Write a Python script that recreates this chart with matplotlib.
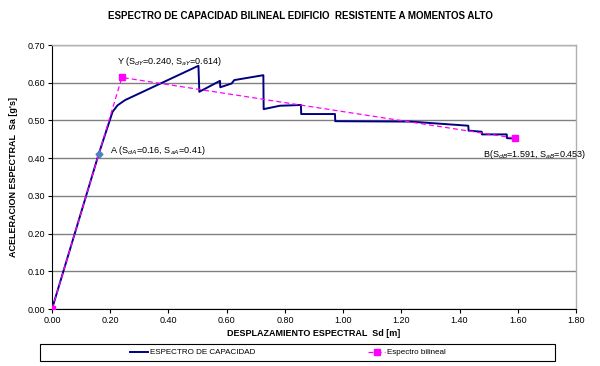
import matplotlib
matplotlib.use("Agg")
import matplotlib.pyplot as plt
from matplotlib.patches import Rectangle

plt.rcParams['font.family'] = ['Liberation Sans', 'DejaVu Sans']

# Capacity spectrum (Sd [m], Sa [g])
cap_sd = [0.0, 0.160, 0.208, 0.225, 0.251, 0.503, 0.506, 0.577, 0.578, 0.617, 0.626,
          0.726, 0.727, 0.783, 0.855, 0.856, 0.972, 0.973, 1.230, 1.430, 1.431,
          1.476, 1.477, 1.562, 1.563, 1.590]
cap_sa = [0.0, 0.410, 0.523, 0.540, 0.554, 0.645, 0.576, 0.605, 0.588, 0.598, 0.607,
          0.620, 0.530, 0.539, 0.541, 0.517, 0.517, 0.498, 0.497, 0.486, 0.473,
          0.470, 0.463, 0.463, 0.453, 0.452]

# Bilinear spectrum
bil_sd = [0.0, 0.240, 1.591]
bil_sa = [0.0, 0.614, 0.453]

# Point A
a_sd, a_sa = 0.16, 0.41

title = "ESPECTRO DE CAPACIDAD BILINEAL EDIFICIO  RESISTENTE A MOMENTOS ALTO"
xticks = [0.0, 0.2, 0.4, 0.6, 0.8, 1.0, 1.2, 1.4, 1.6, 1.8]
yticks = [0.0, 0.1, 0.2, 0.3, 0.4, 0.5, 0.6, 0.7]

fig = plt.figure(figsize=(6.0, 3.66), dpi=100)
ax = fig.add_axes([0.0867, 0.1557, 0.8733, 0.7213])

ax.plot(cap_sd, cap_sa, color='#000080', lw=1.4, label='ESPECTRO DE CAPACIDAD', zorder=3)
ax.plot(bil_sd, bil_sa, color='#FF00FF', lw=0.9, ls=(0, (4, 2.5)), marker='s', ms=4,
        label='Espectro bilineal', zorder=4)
ax.plot([a_sd], [a_sa], marker='D', ms=3.5, color='#4F81BD', ls='none', zorder=5)

ax.set_xlim(0, 1.8)
ax.set_ylim(0, 0.7)
ax.set_xticks(xticks)
ax.set_yticks(yticks)
ax.set_xticklabels([f"{v:.2f}" for v in xticks])
ax.set_yticklabels([f"{v:.2f}" for v in yticks])
ax.tick_params(labelsize=6.5, length=3, width=0.8, direction='out', pad=2)
ax.yaxis.grid(True, color='#808080', lw=1.0)
ax.set_axisbelow(True)
for s in ['top', 'right']:
    ax.spines[s].set_color('#B0B0B0')
    ax.spines[s].set_linewidth(1.0)
for s in ['left', 'bottom']:
    ax.spines[s].set_color('black')
    ax.spines[s].set_linewidth(0.8)

ax.text(0.223, 0.655, "Y (S$_{dY}$=0.240, S$_{aY}$=0.614)", fontsize=6.5, va='center')
ax.text(0.199, 0.420, "A (S$_{dA}$=0.16, S$_{aA}$=0.41)", fontsize=6.5, va='center')
ax.text(1.480, 0.410, "B(S$_{dB}$=1.591, S$_{aB}$=0.453)", fontsize=6.5, va='center')

fig.text(0.5, 0.957, title, ha='center', va='center', fontsize=7, fontweight='bold')
ax.set_xlabel("DESPLAZAMIENTO ESPECTRAL  Sd [m]", fontsize=6.5, fontweight='bold', labelpad=3)
ax.set_ylabel("ACELERACION ESPECTRAL  Sa [g's]", fontsize=6.5, fontweight='bold', labelpad=7)

fig.patches.append(Rectangle((40/600, 1-361/366), 515/600, 17/366, transform=fig.transFigure,
                             fill=False, edgecolor='black', lw=0.8))
fig.legend(loc='center', bbox_to_anchor=(288/600, 1-352.5/366), ncol=2, frameon=False,
           fontsize=5.8, handlelength=2.2, handletextpad=0.2, columnspacing=14,
           borderpad=0, borderaxespad=0)

fig.savefig("out.png", dpi=100)
